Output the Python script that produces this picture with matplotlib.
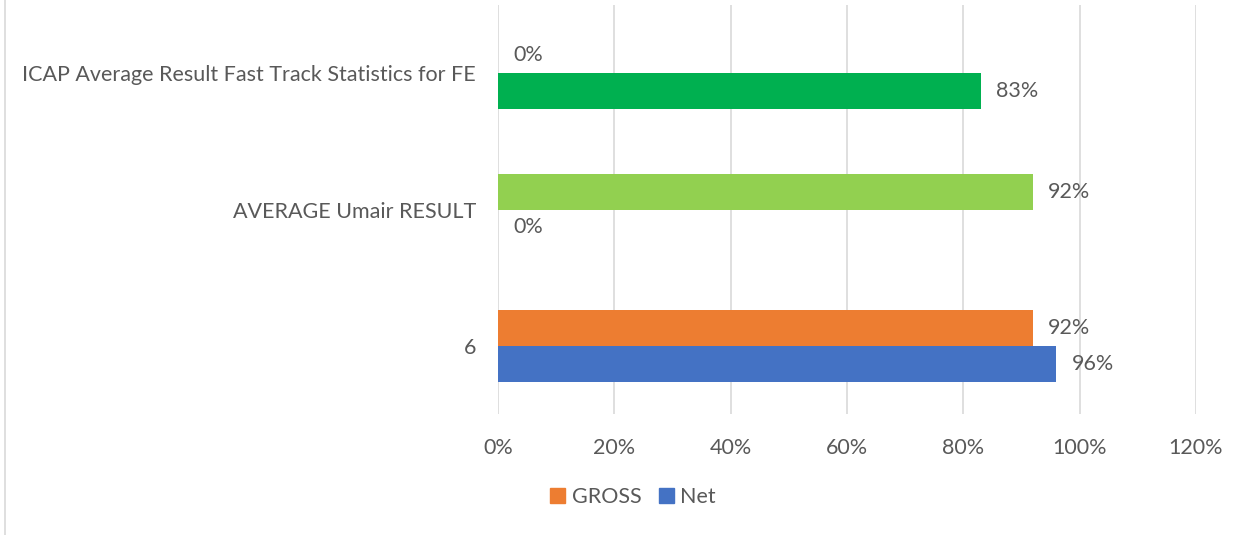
import matplotlib.pyplot as plt
from matplotlib.patches import Patch
from matplotlib.lines import Line2D
from matplotlib.ticker import PercentFormatter
import numpy as np

categories = ['6', 'AVERAGE Umair RESULT', 'ICAP Average Result Fast Track Statistics for FE']
net = [0.96, 0.0, 0.83]
gross = [0.92, 0.92, 0.0]
net_colors = ['#4472C4', '#4472C4', '#00B050']
gross_colors = ['#ED7D31', '#92D050', '#ED7D31']
ticks = [0, 0.2, 0.4, 0.6, 0.8, 1.0, 1.2]

text_color = '#595959'
fs = 15.5
plt.rcParams['font.family'] = ['Lato', 'DejaVu Sans']

fig = plt.figure(figsize=(12.59, 5.35), dpi=100)
ax = fig.add_axes([498 / 1259, 1 - 414 / 535, 698 / 1259, 409 / 535])

y = np.arange(len(categories))
h = 0.264
net_bars = ax.barh(y - h / 2, net, height=h, color=net_colors, zorder=3)
gross_bars = ax.barh(y + h / 2, gross, height=h, color=gross_colors, zorder=3)

# value labels just right of each bar end
for bars, vals in [(net_bars, net), (gross_bars, gross)]:
    for b, v in zip(bars, vals):
        ax.annotate(f'{v:.0%}', (v, b.get_y() + b.get_height() / 2),
                    xytext=(15, 0), textcoords='offset pixels',
                    va='center', ha='left', fontsize=fs, color=text_color)

ax.set_xlim(0, 1.2)
ax.set_ylim(-0.5, 2.5)
ax.set_xticks(ticks)
ax.xaxis.set_major_formatter(PercentFormatter(1.0, decimals=0))
ax.set_yticks(y)
ax.set_yticklabels(categories)
ax.tick_params(axis='both', length=0, labelsize=fs, labelcolor=text_color)
ax.tick_params(axis='x', pad=17)
ax.tick_params(axis='y', pad=16)
ax.grid(axis='x', color='#D9D9D9', linewidth=1.2, zorder=0)
for s in ax.spines.values():
    s.set_visible(False)

handles = [Patch(color='#ED7D31', label='GROSS'), Patch(color='#4472C4', label='Net')]
fig.legend(handles=handles, loc='center', bbox_to_anchor=(633 / 1259, 1 - 497 / 535),
           ncol=2, frameon=False, fontsize=fs, labelcolor=text_color,
           handlelength=0.7, handleheight=0.7, handletextpad=0.3, columnspacing=0.8)

fig.add_artist(Line2D([5 / 1259, 5 / 1259], [0, 1], color='#D9D9D9', linewidth=1.2))

fig.savefig('out.png', dpi=100)
